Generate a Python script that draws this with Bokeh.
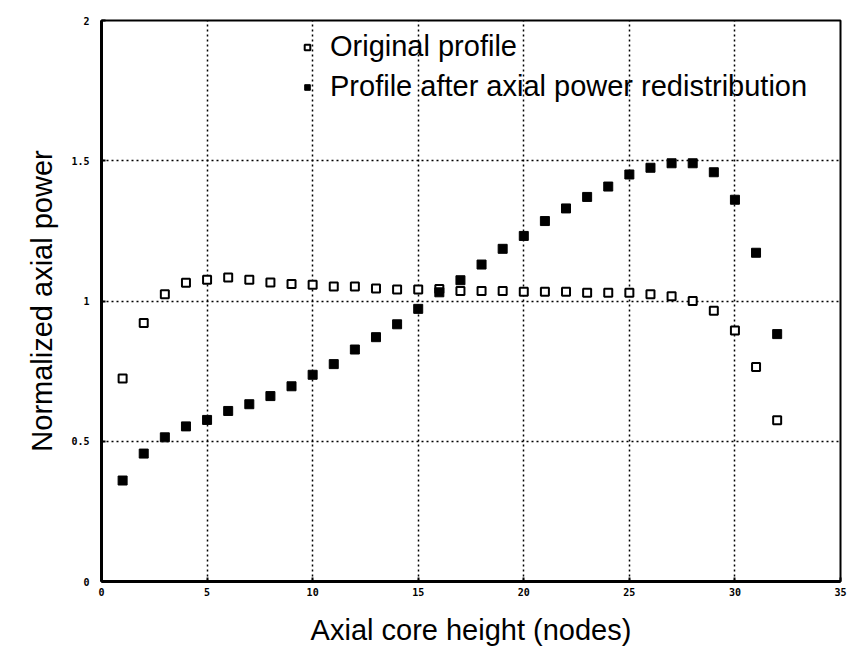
from bokeh.plotting import figure
from bokeh.models import Range1d, Legend, LegendItem, FixedTicker
from bokeh.embed import file_html
from bokeh.resources import INLINE

nodes = list(range(1, 33))
original = [0.724, 0.922, 1.024, 1.065, 1.076, 1.084, 1.076, 1.066, 1.061, 1.058,
            1.052, 1.052, 1.045, 1.041, 1.041, 1.043, 1.036, 1.036, 1.036, 1.033,
            1.033, 1.033, 1.029, 1.029, 1.029, 1.024, 1.017, 1.000, 0.965, 0.895,
            0.765, 0.575]
redistributed = [0.360, 0.456, 0.514, 0.553, 0.576, 0.608, 0.632, 0.661, 0.696, 0.737,
                 0.775, 0.827, 0.871, 0.917, 0.972, 1.031, 1.074, 1.130, 1.186, 1.232,
                 1.285, 1.330, 1.371, 1.408, 1.451, 1.475, 1.491, 1.491, 1.459, 1.361,
                 1.172, 0.882]
x_ticks = [0, 5, 10, 15, 20, 25, 30, 35]
y_ticks = [0, 0.5, 1, 1.5, 2]
y_tick_labels = {0: "0", 0.5: "0.5", 1: "1", 1.5: "1.5", 2: "2"}
label_original = "Original profile"
label_redist = "Profile after axial power redistribution"

p = figure(width=860, height=648, output_backend="svg", toolbar_location=None,
           x_range=Range1d(0, 35), y_range=Range1d(0, 2),
           min_border_left=101, min_border_right=20, min_border_top=20, min_border_bottom=67)
p.background_fill_color = "white"
p.border_fill_color = "white"
p.outline_line_color = "black"
p.outline_line_width = 2

for ax in (p.xaxis[0], p.yaxis[0]):
    ax.axis_line_width = 3
    ax.axis_line_color = "black"
    ax.major_tick_in = 4
    ax.major_tick_out = 0
    ax.minor_tick_in = 0
    ax.minor_tick_out = 0
    ax.major_tick_line_width = 2
    ax.major_label_text_font = "DejaVu Sans Mono"
    ax.major_label_text_font_style = "bold"
    ax.major_label_text_font_size = "10px"
    ax.major_label_text_color = "black"
    ax.axis_label_text_font = "Liberation Sans"
    ax.axis_label_text_font_style = "normal"
    ax.axis_label_text_font_size = "29px"
    ax.axis_label_text_color = "black"

p.xaxis.ticker = FixedTicker(ticks=x_ticks)
p.yaxis.ticker = FixedTicker(ticks=y_ticks)
p.yaxis.major_label_overrides = y_tick_labels
p.xaxis.major_label_standoff = 6
p.yaxis.major_label_standoff = 12
p.xaxis.axis_label = "Axial core height (nodes)"
p.yaxis.axis_label = "Normalized axial power"
p.xaxis.axis_label_standoff = 15
p.yaxis.axis_label_standoff = 10

for g in (p.xgrid[0], p.ygrid[0]):
    g.grid_line_color = "black"
    g.grid_line_width = 1.5
    g.grid_line_dash = "2 3"

r1 = p.scatter(nodes, original, marker="square", size=8, fill_color="white",
               line_color="black", line_width=2)
r2 = p.scatter(nodes, redistributed, marker="square", size=9, fill_color="black",
               line_color="black", line_width=1)

legend = Legend(items=[LegendItem(label=label_original, renderers=[r1]),
                       LegendItem(label=label_redist, renderers=[r2])],
                location=(199, 478))
legend.border_line_color = None
legend.background_fill_alpha = 0
legend.label_text_font = "Liberation Sans"
legend.label_text_font_size = "29px"
legend.label_text_color = "black"
legend.label_height = 30
legend.glyph_height = 30
legend.glyph_width = 14
legend.spacing = 7
legend.padding = 0
legend.margin = 0
legend.label_standoff = 16
p.add_layout(legend)

open("out.html", "w").write(file_html(p, INLINE))
